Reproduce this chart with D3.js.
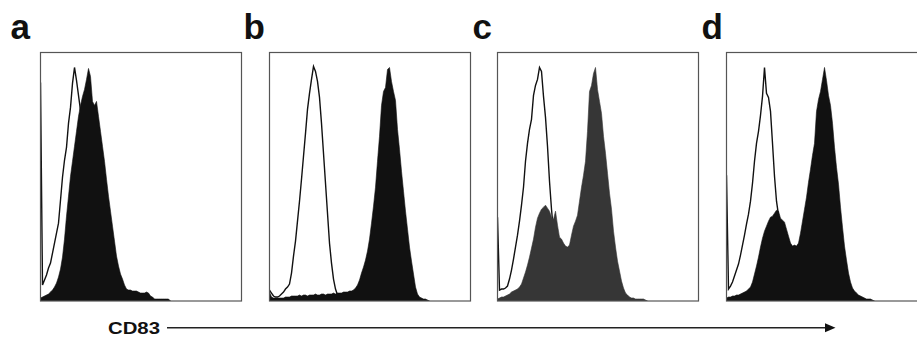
<!DOCTYPE html>
<html>
<head>
<meta charset="utf-8">
<script src="https://cdn.jsdelivr.net/npm/d3@7"></script>
<style>
  body { margin: 0; background: #fff; }
  svg { display: block; }
</style>
</head>
<body>
<svg id="chart" width="917" height="338"></svg>
<script>
// panel letters
const panelLabels = ["a", "b", "c", "d"]
const axisLabel = "CD83"

// event counts per 2-channel bin (isotype control = open, CD83 stain = filled)
const aOpen = [219, 16, 21, 26, 33, 38, 48, 58, 68, 78, 101, 124, 141, 154, 178, 194, 218, 234, 221, 206,
    191, 179, 168, 150, 130, 110, 90, 70, 50, 35, 22, 12, 6, 3, 0]
const aFilled = [3, 4, 5, 6, 7, 9, 11, 14, 18, 24, 32, 44, 62, 85, 105, 125, 140, 155, 170, 185,
    196, 205, 212, 222, 233, 225, 200, 196, 200, 185, 170, 155, 140, 122, 105, 90, 75, 60, 45, 35,
    27, 22, 16, 12, 11, 11, 10, 10, 10, 9, 8, 8, 8, 9, 8, 5, 4, 2, 2, 2, 2, 2, 2, 2, 2, 0]

const bOpen = [11, 8, 5, 4, 4, 5, 7, 9, 12, 14, 17, 28, 45, 60, 80, 100, 122, 145, 168, 192,
    208, 222, 235, 230, 220, 204, 178, 148, 118, 88, 58, 38, 22, 12, 6, 4, 3, 2, 1, 0]
const bFilled = [9, 4, 3, 3, 3, 3, 3, 3, 4, 4, 4, 5, 5, 5, 5, 6, 5, 6, 6, 5,
    6, 6, 6, 7, 6, 6, 7, 7, 6, 7, 7, 7, 8, 7, 8, 8, 8, 9, 9, 9,
    10, 10, 11, 13, 16, 21, 28, 34, 41, 50, 62, 78, 95, 114, 140, 165, 196, 210, 214, 232,
    234, 220, 210, 201, 172, 152, 130, 110, 90, 72, 54, 40, 27, 14, 7, 4, 3, 2, 2, 1, 0]

const cOpen = [84, 11, 12, 12, 13, 15, 22, 31, 42, 54, 66, 80, 96, 114, 140, 158, 172, 182, 206, 216,
    222, 234, 230, 205, 184, 155, 120, 92, 70, 50, 34, 22, 14, 8, 5, 3, 2, 1, 0]
const cFilled = [2, 3, 4, 4, 5, 6, 7, 9, 10, 11, 12, 14, 17, 23, 29, 36, 44, 53, 62, 74,
    83, 88, 92, 94, 96, 93, 90, 84, 82, 90, 76, 64, 62, 58, 55, 54, 56, 66, 75, 80,
    86, 100, 114, 126, 140, 170, 210, 216, 228, 234, 212, 200, 188, 165, 148, 128, 108, 92, 70, 54,
    40, 30, 20, 13, 8, 6, 4, 3, 3, 2, 2, 2, 2, 2, 1, 0]

const dOpen = [126, 12, 15, 19, 25, 31, 37, 46, 56, 66, 77, 87, 100, 118, 140, 158, 170, 186, 205, 234,
    208, 204, 190, 158, 125, 100, 86, 68, 50, 35, 24, 15, 9, 5, 3, 2, 1, 0]
const dFilled = [3, 4, 4, 5, 5, 6, 6, 7, 8, 9, 10, 12, 14, 19, 27, 35, 44, 54, 63, 70,
    75, 80, 84, 85, 88, 91, 90, 83, 81, 79, 72, 65, 58, 55, 56, 55, 58, 68, 80, 92,
    104, 119, 132, 146, 158, 190, 202, 210, 222, 234, 221, 206, 196, 178, 154, 134, 117, 94, 74, 55,
    41, 28, 19, 13, 10, 8, 6, 5, 4, 3, 2, 2, 2, 1, 0]

const openSeries = [aOpen, bOpen, cOpen, dOpen]
const filledSeries = [aFilled, bFilled, cFilled, dFilled]
const fillColors = ["#111", "#111", "#363636", "#111"]

const svg = d3.select("#chart")

const panelLeft = [40, 269, 497, 726]
const panelW = 202
const plotTop = 52.5, plotBottom = 301

const y = d3.scaleLinear()
    .domain([0, 249])
    .range([plotBottom, plotTop])

panelLabels.forEach(function (label, i) {
    const x = d3.scaleLinear()
        .domain([0, 100])   // bins
        .range([panelLeft[i] + 0.5, panelLeft[i] + 200.5])

    const g = svg.append("g")

    g.append("clipPath")
        .attr("id", "clip" + i)
        .append("rect")
        .attr("x", panelLeft[i])
        .attr("y", plotTop)
        .attr("width", panelW)
        .attr("height", plotBottom - plotTop)

    const plot = g.append("g").attr("clip-path", "url(#clip" + i + ")")

    const line = d3.line()
        .x((d, j) => x(j))
        .y(d => y(d))

    const area = d3.area()
        .x((d, j) => x(j))
        .y0(y(0))
        .y1(d => y(d))

    // open histogram underneath, filled one on top of it
    plot.append("path")
        .datum(openSeries[i])
        .attr("d", line)
        .attr("fill", "none")
        .attr("stroke", "#111")
        .attr("stroke-width", 1.4)

    plot.append("path")
        .datum(filledSeries[i])
        .attr("d", area)
        .attr("fill", fillColors[i])
        .attr("stroke", fillColors[i])
        .attr("stroke-width", 0.6)

    g.append("rect")
        .attr("x", panelLeft[i] + 0.5)
        .attr("y", plotTop)
        .attr("width", panelW - 1)
        .attr("height", plotBottom - plotTop)
        .attr("fill", "none")
        .attr("stroke", "#555")
        .attr("stroke-width", 1.2)

    svg.append("text")
        .attr("x", [10.5, 243.5, 472.5, 701.5][i])
        .attr("y", 39)
        .attr("font-family", "Liberation Sans, Arial, sans-serif")
        .attr("font-weight", "bold")
        .attr("font-size", 35)
        .attr("fill", "#111")
        .text(label)
})

// CD83 arrow underneath
svg.append("text")
    .attr("x", 108)
    .attr("y", 334)
    .attr("font-family", "Liberation Sans, Arial, sans-serif")
    .attr("font-weight", "bold")
    .attr("font-size", 17)
    .attr("textLength", 52)
    .attr("lengthAdjust", "spacingAndGlyphs")
    .attr("fill", "#111")
    .text(axisLabel)

svg.append("line")
    .attr("x1", 167)
    .attr("x2", 826)
    .attr("y1", 327.8)
    .attr("y2", 327.8)
    .attr("stroke", "#222")
    .attr("stroke-width", 1.5)

svg.append("path")
    .attr("d", d3.line()([[825, 323.3], [835.5, 327.8], [825, 332.3]]) + "Z")
    .attr("fill", "#111")
</script>
</body>
</html>
